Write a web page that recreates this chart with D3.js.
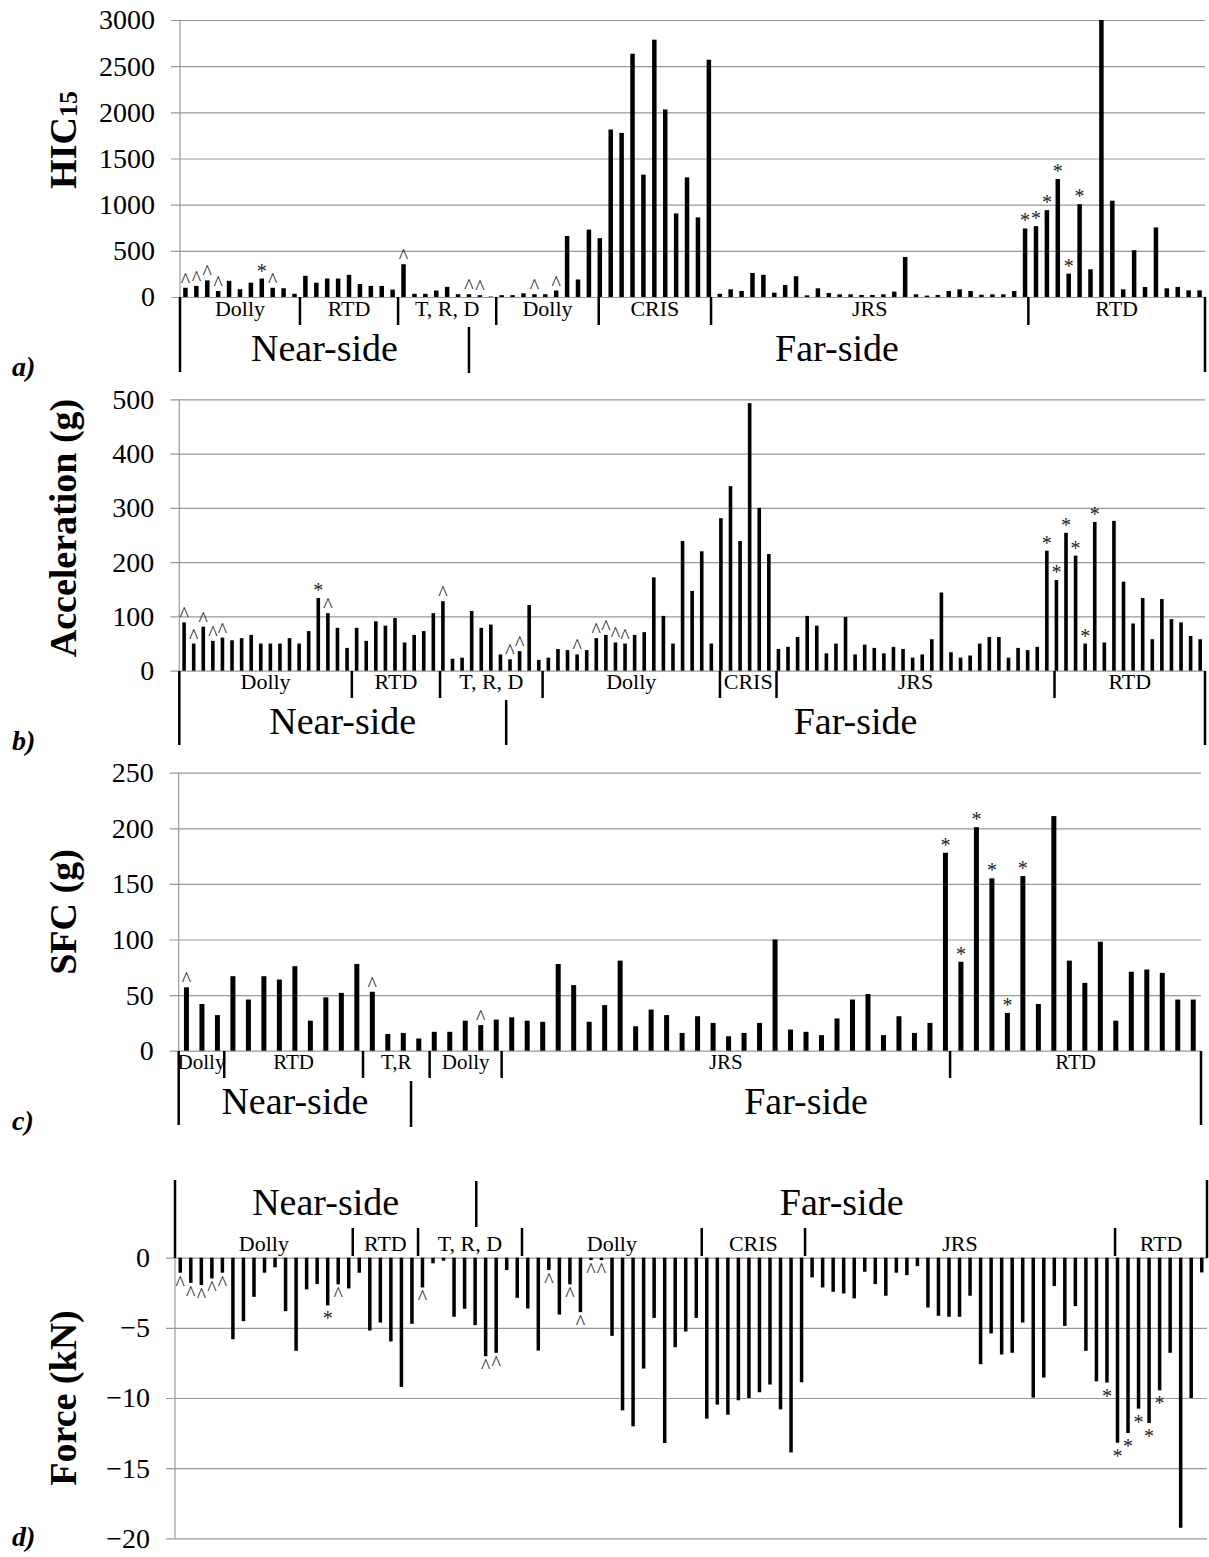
<!DOCTYPE html>
<meta charset="utf-8">
<style>
    body { margin: 0; background: #fff; }
    text { font-family: "Liberation Serif", "Times New Roman", serif; fill: #000; }
    .tick line { stroke: #999; stroke-width: 1.2px; }
    .tick text { font-size: 28px; }
    .sep { stroke: #000; stroke-width: 2.5px; }
</style>
<body>
<script src="https://d3js.org/d3.v7.min.js"></script>
<script>
    // a) HIC15
    var hicValues = [100,120,180,65,175,85,155,200,100,95, 35,230,155,200,200,240,140,120,120,80,
        355,35,35,70,110,30,30,20,5,20, 20,40,30,30,70,660,190,730,637,1814,
        1777,2635,1325,2787,2031,905,1296,862,2570,35, 83,65,260,240,47,130,225,18,94,43,
        29,29,22,22,29,58,434,29,15,22, 65,83,65,25,29,29,65,742,767,941,
        1278,253,1006,300,3000,1043,83,507,109,753, 94,109,72,72];
    var hicMarks = [[0,"^"],[1,"^"],[2,"^"],[3,"^"],[7,"*"],[8,"^"],[20,"^"],[26,"^"],[27,"^"],
        [32,"^"],[34,"^"],[77,"*"],[78,"*"],[79,"*"],[80,"*"],[81,"*"],[82,"*"]];
    var hicTicks = [0,500,1000,1500,2000,2500,3000];
    var hicGroups = ["Dolly","RTD","T, R, D","Dolly","CRIS","JRS","RTD"];
    var hicGroupEdges = [0,11,20,29,38.4,48.7,77.8,94];
    var hicSideEdges = [0,26.5,94];

    // b) Acceleration
    var accValues = [89,50,81,55,61,56,60,66,50,50, 50,60,50,73,134,106,79,42,79,55,
        91,83,97,52,66,73,106,128,22,24, 110,79,85,30,21,36,121,20,24,40,
        38,30,38,60,66,52,50,66,71,172, 101,50,239,147,220,50,281,340,239,493,
        300,215,40,44,62,101,83,32,50,99, 30,48,42,32,44,40,24,30,58,144,
        34,24,28,50,62,62,24,42,38,44, 221,167,254,212,50,274,52,276,164,87,
        134,58,132,95,89,64,58];
    var accMarks = [[0,"^"],[1,"^"],[2,"^"],[3,"^"],[4,"^"],[14,"*"],[15,"^"],[27,"^"],[34,"^"],[35,"^"],
        [41,"^"],[43,"^"],[44,"^"],[45,"^"],[46,"^"],[90,"*"],[91,"*"],[92,"*"],[93,"*"],[94,"*"],[95,"*"]];
    var accTicks = [0,100,200,300,400,500];
    var accGroups = ["Dolly","RTD","T, R, D","Dolly","CRIS","JRS","RTD"];
    var accGroupEdges = [0,18,27.2,37.9,56.4,62.3,91.3,107];
    var accSideEdges = [0,34.1,107];

    // c) SFC
    var sfcValues = [57,42,32,67,46,67,64,76,27,48, 52,78,53,15,16,11,17,17,27,23,
        28,30,27,26,78,59,26,41,81,22, 37,32,16,31,25,13,16,25,100,19,
        17,14,29,46,51,14,31,16,25,178, 80,201,155,34,157,42,211,81,61,98,
        27,71,73,70,46,46];
    var sfcMarks = [[0,"^"],[12,"^"],[19,"^"],[49,"*"],[50,"*"],[51,"*"],[52,"*"],[53,"*"],[54,"*"]];
    var sfcTicks = [0,50,100,150,200,250];
    var sfcGroups = ["Dolly","RTD","T,R","Dolly","JRS","RTD"];
    var sfcGroupEdges = [0,2.94,11.9,16.2,20.85,49.8,66];
    var sfcSideEdges = [0,15,66];

    // d) Force
    var forceValues = [-1.07,-1.79,-1.95,-1.48,-1.07,-5.81,-4.52,-2.79,-1.07,-0.69,
        -3.81,-6.64,-2.26,-1.88,-3.40,-1.90,-2.19,-1.07,-5.19,-4.62,
        -5.97,-9.21,-4.71,-2.12,-0.40,-0.21,-4.21,-3.64,-4.81,-7.02,
        -6.78,-0.88,-2.86,-3.62,-6.62,-0.88,-4.05,-1.90,-3.88,-0.17,
        -0.17,-5.57,-10.88,-12.02,-7.90,-4.29,-13.21,-6.38,-5.26,-4.29,
        -11.47,-10.47,-11.19,-10.16,-10.0,-9.59,-9.04,-10.81,-13.88,-8.88,
        -1.40,-2.12,-2.43,-2.55,-2.90,-1.0,-1.88,-2.71,-1.07,-1.24,
        -0.60,-3.55,-4.14,-4.21,-4.21,-2.71,-7.59,-5.40,-6.90,-6.78,
        -4.62,-9.97,-8.54,-2.02,-4.86,-3.45,-6.64,-8.81,-8.90,-13.19,
        -12.5,-10.76,-11.78,-9.45,-6.78,-19.25,-10.0,-1.05];
    var forceMarks = [[0,"^"],[1,"^"],[2,"^"],[3,"^"],[4,"^"],[14,"*"],[15,"^"],[23,"^"],[29,"^"],[30,"^"],
        [35,"^"],[37,"^"],[38,"^"],[39,"^"],[40,"^"],[88,"*"],[89,"*"],[90,"*"],[91,"*"],[92,"*"],[93,"*"]];
    var forceTicks = [-20,-15,-10,-5,0];
    var forceGroups = ["Dolly","RTD","T, R, D","Dolly","CRIS","JRS","RTD"];
    var forceGroupEdges = [0,16.88,23.08,32.95,50.02,59.83,89.27,98];
    var forceSideEdges = [0,28.61,98];

    var sides = ["Near-side", "Far-side"];

    var panels = [
        { values: hicValues, marks: hicMarks, ticks: hicTicks, groups: hicGroups, groupEdges: hicGroupEdges,
          sideEdges: hicSideEdges, title: "HIC", sub: "15", letter: "a)", letterY: 376, titleY: 140,
          left: 180, right: 1205, y0: 297, y1: 20, domain: [0, 3000], barW: 4.5, below: true,
          groupLabelY: 316, sepY: [297, 325], outerY: [297, 372], sideSepY: [327, 373], sideLabelY: 361, groupFont: 22 },
        { values: accValues, marks: accMarks, ticks: accTicks, groups: accGroups, groupEdges: accGroupEdges,
          sideEdges: accSideEdges, title: "Acceleration (g)", letter: "b)", letterY: 750, titleY: 528,
          left: 179.3, right: 1205, y0: 670.7, y1: 399.3, domain: [0, 500], barW: 3.6, below: true,
          groupLabelY: 689, sepY: [671, 698], outerY: [671, 745], sideSepY: [700, 745], sideLabelY: 734, groupFont: 22 },
        { values: sfcValues, marks: sfcMarks, ticks: sfcTicks, groups: sfcGroups, groupEdges: sfcGroupEdges,
          sideEdges: sfcSideEdges, title: "SFC (g)", letter: "c)", letterY: 1130, titleY: 912,
          left: 178.7, right: 1201, y0: 1050.7, y1: 772.7, domain: [0, 250], barW: 5, below: true,
          groupLabelY: 1069, sepY: [1051, 1078], outerY: [1051, 1125], sideSepY: [1081, 1127], sideLabelY: 1114, groupFont: 21 },
        { values: forceValues, marks: forceMarks, ticks: forceTicks, groups: forceGroups, groupEdges: forceGroupEdges,
          sideEdges: forceSideEdges, title: "Force (kN)", letter: "d)", letterY: 1546, titleY: 1398,
          left: 175, right: 1207, y0: 1257.7, y1: 1538.3, domain: [0, -20], barW: 3.5, below: false,
          groupLabelY: 1251, sepY: [1228, 1256], outerY: [1180, 1258], sideSepY: [1181, 1227], sideLabelY: 1215, groupFont: 22 }
    ];

    var svg = d3.select("body").append("svg")
        .attr("width", 1209)
        .attr("height", 1557);

    panels.forEach(drawPanel);

    function drawPanel(p) {
        var n = p.values.length;
        var x = d3.scaleLinear().domain([0, n]).range([p.left, p.right]);
        var y = d3.scaleLinear().domain(p.domain).range([p.y0, p.y1]);
        var g = svg.append("g");

        // gridlines + tick labels
        var ext = 9;
        g.append("g")
            .attr("transform", "translate(" + (p.left - ext) + ",0)")
            .call(d3.axisLeft(y).tickValues(p.ticks).tickFormat(d3.format("d"))
                .tickSizeInner(-(p.right - p.left + ext)).tickSizeOuter(0).tickPadding(16))
            .call(function (a) { a.select(".domain").remove(); });

        // vertical axis line
        g.append("line")
            .attr("x1", p.left).attr("x2", p.left)
            .attr("y1", d3.min([p.y0, p.y1])).attr("y2", d3.max([p.y0, p.y1]))
            .style("stroke", "#999").style("stroke-width", 1.2);

        // bars
        g.selectAll(".bar")
            .data(p.values)
            .enter().append("rect")
            .attr("class", "bar")
            .attr("x", function (d, i) { return x(i + 0.5) - p.barW / 2; })
            .attr("y", function (d) { return Math.min(y(d), y(0)); })
            .attr("width", p.barW)
            .attr("height", function (d) { return Math.abs(y(d) - y(0)); })
            .attr("fill", "#000");

        // significance markers
        g.selectAll(".mark")
            .data(p.marks)
            .enter().append("text")
            .attr("x", function (d) { return x(d[0] + 0.5); })
            .attr("y", function (d) {
                var v = p.values[d[0]];
                if (p.below) return y(v) - 1;
                return y(v) + (d[1] == "*" ? 20 : 17);
            })
            .attr("text-anchor", "middle")
            .style("font-size", "20px")
            .style("fill", "#222")
            .text(function (d) { return d[1]; });

        // category group separators
        p.groupEdges.forEach(function (e, i) {
            var outer = (i == 0 || i == p.groupEdges.length - 1);
            var yy = outer ? p.outerY : p.sepY;
            g.append("line").attr("class", "sep")
                .attr("x1", x(e)).attr("x2", x(e))
                .attr("y1", yy[0]).attr("y2", yy[1]);
        });
        p.groups.forEach(function (name, i) {
            g.append("text")
                .attr("x", x((p.groupEdges[i] + p.groupEdges[i + 1]) / 2))
                .attr("y", p.groupLabelY)
                .attr("text-anchor", "middle")
                .style("font-size", p.groupFont + "px")
                .text(name);
        });
        p.sideEdges.slice(1, -1).forEach(function (e) {
            g.append("line").attr("class", "sep")
                .attr("x1", x(e)).attr("x2", x(e))
                .attr("y1", p.sideSepY[0]).attr("y2", p.sideSepY[1]);
        });
        sides.forEach(function (name, i) {
            g.append("text")
                .attr("x", x((p.sideEdges[i] + p.sideEdges[i + 1]) / 2))
                .attr("y", p.sideLabelY)
                .attr("text-anchor", "middle")
                .style("font-size", "38px")
                .text(name);
        });

        // y axis title
        var t = g.append("text")
            .attr("transform", "translate(76," + p.titleY + ") rotate(-90)")
            .attr("text-anchor", "middle")
            .style("font-size", "38px")
            .style("font-weight", "bold")
            .text(p.title);
        if (p.sub) {
            t.append("tspan").attr("dy", 1).style("font-size", "26px").text(p.sub);
        }

        // panel letter
        g.append("text")
            .attr("x", 12).attr("y", p.letterY)
            .style("font-size", "28px")
            .style("font-weight", "bold")
            .style("font-style", "italic")
            .text(p.letter);
    }
</script>
</body>
